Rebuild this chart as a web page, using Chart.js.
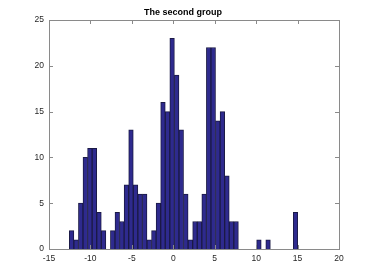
<!DOCTYPE html>
<html lang="en">

<head>
  <meta charset="UTF-8">
  <title>The second group</title>
  <script src="https://cdn.jsdelivr.net/npm/chart.js@4"></script>
  <style>
    html, body {
      margin: 0;
      padding: 0;
      background: #fff;
    }
  </style>
</head>

<body>
  <canvas id="histChart" width="374" height="280"></canvas>

  <script>
    // Histogram: 50 bins, counts
    const binStart = -12.55;
    const binWidth = 0.5515;
    const counts = [
      2, 1, 5, 10, 11, 11, 4, 2, 0, 2,
      4, 3, 7, 13, 7, 6, 6, 1, 2, 5,
      16, 15, 23, 19, 13, 6, 1, 3, 3, 6,
      22, 22, 14, 15, 8, 3, 3, 0, 0, 0,
      0, 1, 0, 1, 0, 0, 0, 0, 0, 4
    ];

    const xTicks = [-15, -10, -5, 0, 5, 10, 15, 20];
    const yTicks = [0, 5, 10, 15, 20, 25];
    const titleText = "The second group";

    const axisColor = "#8a8a8a";
    const textColor = "#262626";

    // bin centres
    const binCenters = counts.map((c, i) => binStart + binWidth * (i + 0.5));

    // box round the plot with inward tick marks + the title, like the original
    const boxPlugin = {
      id: "boxPlugin",
      afterDatasetsDraw(chart) {
        const { ctx, chartArea: a, scales: { x, y } } = chart;
        const len = 4;
        ctx.save();
        ctx.strokeStyle = axisColor;
        ctx.lineWidth = 1;
        ctx.beginPath();
        xTicks.forEach(v => {
          const px = Math.round(x.getPixelForValue(v)) + 0.5;
          ctx.moveTo(px, a.bottom);
          ctx.lineTo(px, a.bottom - len);
          ctx.moveTo(px, a.top);
          ctx.lineTo(px, a.top + len);
        });
        yTicks.forEach(v => {
          const py = Math.round(y.getPixelForValue(v)) + 0.5;
          ctx.moveTo(a.left, py);
          ctx.lineTo(a.left + len, py);
          ctx.moveTo(a.right, py);
          ctx.lineTo(a.right - len, py);
        });
        ctx.stroke();
        ctx.strokeRect(Math.round(a.left) + 0.5, Math.round(a.top) + 0.5,
          Math.round(a.right - a.left), Math.round(a.bottom - a.top));

        // title
        ctx.fillStyle = "#000";
        ctx.font = "bold 9px 'Liberation Sans'";
        ctx.textAlign = "center";
        ctx.textBaseline = "middle";
        ctx.fillText(titleText, 183, 13);
        ctx.restore();
      }
    };

    const ctx = document.getElementById("histChart").getContext("2d");
    new Chart(ctx, {
      type: "bar",
      data: {
        datasets: [{
          data: binCenters.map((c, i) => ({ x: c, y: counts[i] || null })),
          backgroundColor: "#2e2a8e",
          borderColor: "#1b1a45",
          borderWidth: 1,
          borderSkipped: "bottom",
          barPercentage: 1,
          categoryPercentage: 1
        }]
      },
      options: {
        responsive: false,
        animation: false,
        devicePixelRatio: 1,
        layout: {
          padding: { left: 0, right: 35, top: 20, bottom: 0 }
        },
        plugins: {
          legend: { display: false },
          tooltip: { enabled: false },
          title: { display: false }
        },
        scales: {
          x: {
            type: "linear",
            min: -15,
            max: 20,
            offset: false,
            grid: { display: false, drawTicks: false },
            border: { display: false },
            afterBuildTicks: s => { s.ticks = xTicks.map(v => ({ value: v })); },
            afterFit: s => { s.height = 31; },
            ticks: {
              color: textColor,
              padding: 5,
              maxRotation: 0,
              font: { family: "Liberation Sans", size: 8.5 }
            }
          },
          y: {
            min: 0,
            max: 25,
            grid: { display: false, drawTicks: false },
            border: { display: false },
            afterBuildTicks: s => { s.ticks = yTicks.map(v => ({ value: v })); },
            afterFit: s => { s.width = 49; },
            ticks: {
              color: textColor,
              padding: 5,
              font: { family: "Liberation Sans", size: 8.5 }
            }
          }
        }
      },
      plugins: [boxPlugin]
    });
  </script>
</body>

</html>
